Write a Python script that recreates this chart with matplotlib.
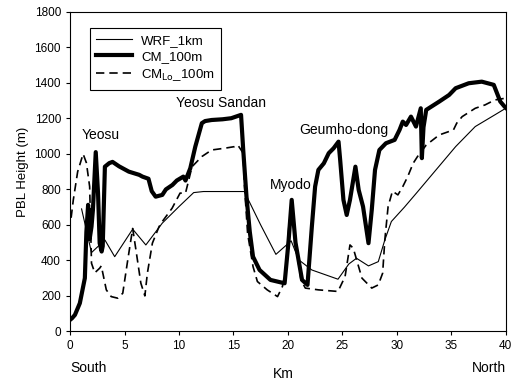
import numpy as np
import matplotlib
matplotlib.use("Agg")
import matplotlib.pyplot as plt

plt.rcParams['font.family'] = ['Liberation Sans', 'DejaVu Sans']

# WRF_1km (thin line)
wrf_km = [1.06, 1.97, 3.2, 4.1, 5.75, 6.96, 8.47, 10.0, 11.35, 12.25, 16.0, 17.5,
          18.9, 20.3, 21.0, 22.2, 24.6, 25.6, 26.3, 27.4, 28.3, 28.9, 29.5, 30.7,
          31.8, 33.6, 35.4, 37.2, 39.0, 40.0]
wrf_pbl = [690, 444, 515, 421, 576, 487, 610, 703, 782, 788, 788, 600,
           434, 510, 403, 346, 294, 380, 412, 369, 393, 515, 619, 700,
           779, 910, 1041, 1154, 1220, 1257]

# CM_100m (thick line)
cm_km = [0.0, 0.18, 0.45, 0.9, 1.36, 1.5, 1.66, 1.8, 1.97, 2.1, 2.36, 2.57, 2.72,
         2.9, 3.0, 3.2, 3.6, 3.9, 4.5, 5.4, 6.35, 6.65, 7.2, 7.5, 7.86, 8.47,
         8.8, 9.4, 9.8, 10.4, 10.6, 11.04, 11.5, 12.1, 12.4, 13.0, 14.0, 14.8,
         15.7, 15.9, 16.2, 16.5, 16.8, 17.4, 18.4, 19.7, 20.05, 20.35, 20.7,
         21.3, 21.8, 22.2, 22.5, 22.8, 23.3, 23.75, 24.2, 24.65, 24.8, 25.1,
         25.4, 25.7, 26.2, 26.5, 26.9, 27.4, 27.7, 28.0, 28.4, 29.0, 29.8,
         30.25, 30.55, 30.85, 31.3, 31.76, 32.2, 32.3, 32.45, 32.7, 33.9, 34.8,
         35.4, 36.6, 37.8, 38.9, 39.2, 39.5, 39.9, 40.0]
cm_pbl = [65, 74, 93, 159, 300, 560, 713, 520, 590, 684, 1010, 779, 497,
          450, 480, 928, 948, 955, 930, 900, 882, 872, 860, 790, 759, 769,
          800, 825, 850, 872, 850, 919, 1041, 1173, 1185, 1191, 1195, 1201,
          1220, 1022, 759, 562, 421, 346, 290, 271, 500, 741, 500,
          290, 262, 590, 816, 910, 947, 1004, 1032, 1069, 966, 741,
          656, 741, 928, 797, 703, 497, 684, 910, 1022, 1060, 1079,
          1135, 1182, 1163, 1210, 1154, 1257, 976, 1150, 1248, 1295, 1332,
          1370, 1398, 1407, 1389, 1342, 1295, 1266, 1260]

# CM_Lo_100m (dashed line)
lo_km = [0.1, 0.3, 0.7, 1.2, 1.5, 1.8, 1.97, 2.27, 2.72, 2.87, 3.33, 3.78,
         4.38, 4.84, 5.3, 5.75, 6.05, 6.5, 6.87, 7.1, 7.56, 8.17, 8.47, 9.37,
         10.1, 10.6, 11.2, 12.1, 13.0, 14.2, 15.1, 15.4, 15.9, 16.0, 16.3,
         16.8, 17.2, 18.1, 19.05, 19.5, 19.8, 20.1, 20.35, 20.7, 21.2, 21.6,
         22.8, 24.6, 25.25, 25.7, 26.0, 26.8, 27.7, 28.3, 28.7, 28.9, 29.2,
         29.6, 30.1, 30.55, 31.0, 31.5, 31.9, 32.7, 33.9, 35.2, 35.5, 36.0,
         37.2, 38.1, 39.0, 39.9]
lo_pbl = [640, 741, 900, 1000, 950, 816, 384, 330, 356, 369, 234, 196,
          187, 215, 403, 580, 459, 272, 200, 328, 497, 590, 619, 694,
          779, 779, 928, 985, 1022, 1032, 1041, 1050, 1004, 835, 553,
          365, 281, 234, 196, 253, 346, 600, 700, 500, 290, 244,
          234, 225, 309, 487, 469, 300, 244, 262, 328, 516, 703,
          790, 769, 816, 872, 947, 985, 1050, 1107, 1135, 1173, 1210,
          1257, 1276, 1304, 1313]

fig = plt.figure(figsize=(5.15, 3.84), dpi=100)
ax = fig.add_axes([0.136, 0.137, 0.846, 0.832])

ax.plot(wrf_km, wrf_pbl, color='black', lw=0.8, label='WRF_1km')
ax.plot(cm_km, cm_pbl, color='black', lw=3.0, solid_joinstyle='round', label='CM_100m')
ax.plot(lo_km, lo_pbl, color='black', lw=1.2, ls=(0, (5, 3)), label=r'CM$_{\mathrm{Lo}}$_100m')

ax.set_xlim(0, 40)
ax.set_ylim(0, 1800)
ax.set_xticks(np.arange(0, 41, 5))
ax.set_yticks(np.arange(0, 1801, 200))
ax.tick_params(direction='out', labelsize=8.5, length=3)
ax.set_ylabel('PBL Height (m)', fontsize=9.5)
ax.set_xlabel('Km', fontsize=10)
ax.xaxis.set_label_coords(0.49, -0.11)
fig.text(0.136, 0.03, 'South', fontsize=10, ha='left')
fig.text(0.982, 0.03, 'North', fontsize=10, ha='right')

ax.text(2.86, 1107, 'Yeosu', fontsize=10, ha='center', va='center')
ax.text(13.9, 1287, 'Yeosu Sandan', fontsize=10, ha='center', va='center')
ax.text(20.3, 825, 'Myodo', fontsize=10, ha='center', va='center')
ax.text(25.1, 1135, 'Geumho-dong', fontsize=10, ha='center', va='center')

leg = ax.legend(loc='upper left', bbox_to_anchor=(0.03, 0.97), fontsize=9.5,
                fancybox=False, edgecolor='black', framealpha=1, handlelength=2.7,
                handletextpad=0.7, borderpad=0.5, labelspacing=0.3)
leg.get_frame().set_linewidth(0.8)

fig.savefig('out.png', dpi=100)
